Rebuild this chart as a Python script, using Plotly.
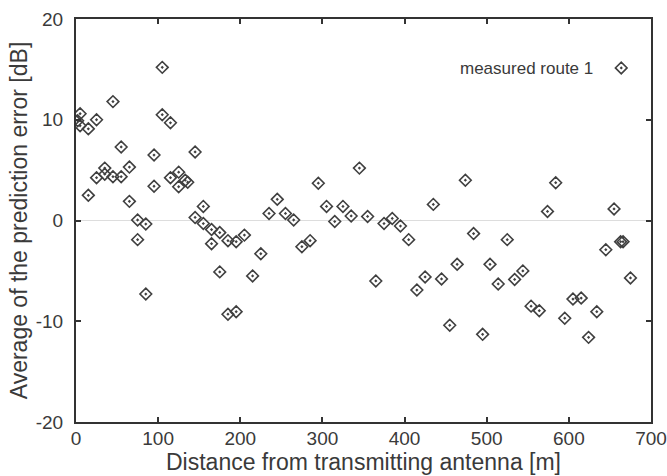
import plotly.graph_objects as go

distance_m = [5, 5, 2, 15, 15, 25, 25, 35, 35, 45, 45, 55, 55, 65, 65, 75, 75, 85, 85,
              95, 95, 105, 105, 115, 115, 125, 125, 133, 136, 145, 145, 155, 155, 165, 165,
              175, 175, 185, 185, 195, 195, 205, 215, 225, 235, 245, 255, 265, 275, 285,
              295, 305, 315, 325, 335, 345, 355, 365, 375, 385, 395, 405, 415, 425, 435,
              445, 455, 464, 474, 484, 495, 504, 514, 525, 534, 544, 554, 564, 574, 584,
              595, 605, 615, 624, 634, 645, 655, 663, 666, 675]
error_db = [10.6, 9.4, 9.9, 9.1, 2.5, 10.0, 4.25, 5.2, 4.6, 11.8, 4.35, 7.3, 4.35, 5.3, 1.9,
            0.05, -1.9, -0.35, -7.3, 6.5, 3.4, 15.2, 10.5, 9.7, 4.25, 4.8, 3.35, 4.0, 3.8,
            6.8, 0.3, 1.4, -0.3, -0.9, -2.3, -1.2, -5.1, -2.0, -9.3, -2.1, -9.05, -1.45,
            -5.5, -3.3, 0.7, 2.1, 0.7, 0.05, -2.6, -2.0, 3.7, 1.4, -0.1, 1.4, 0.45, 5.2,
            0.4, -6.0, -0.3, 0.2, -0.55, -1.9, -6.9, -5.6, 1.6, -5.8, -10.4, -4.35, 4.0,
            -1.3, -11.3, -4.35, -6.3, -1.9, -5.85, -5.0, -8.5, -8.95, 0.9, 3.75, -9.7,
            -7.8, -7.7, -11.6, -9.05, -2.9, 1.15, -2.1, -2.1, -5.7]

x_ticks = [0, 100, 200, 300, 400, 500, 600, 700]
y_ticks = [-20, -10, 0, 10, 20]
y_tick_labels = ["-20", "-10", "0", "10", "20"]
series_name = "measured route 1"

FONT = "Liberation Sans, Arial, Helvetica, sans-serif"
TXT = "#3a3a3a"
INK = "#404040"

fig = go.Figure()
fig.add_trace(go.Scatter(
    x=distance_m, y=error_db, mode="markers", name=" ",
    marker=dict(symbol="diamond-open-dot", size=9, color=INK, line=dict(width=1.6, color=INK)),
    showlegend=True, hoverinfo="skip",
))

axis_common = dict(
    showline=True, linecolor="#333333", linewidth=2, mirror="ticks",
    ticks="inside", ticklen=5, tickwidth=2, tickcolor="#333333",
    showgrid=False, automargin=False,
    tickfont=dict(family=FONT, size=19, color=TXT),
)

fig.update_layout(
    width=667, height=476,
    margin=dict(l=76, r=16, t=19, b=54),
    paper_bgcolor="white", plot_bgcolor="white",
    font=dict(family=FONT, color=TXT),
    xaxis=dict(range=[0, 700], tickvals=x_ticks, zeroline=False,
               ticklabelstandoff=-2,
               title=dict(text="Distance from transmitting antenna [m]",
                          font=dict(family=FONT, size=23, color=TXT), standoff=0),
               **axis_common),
    yaxis=dict(range=[-20, 20], tickvals=y_ticks, ticktext=y_tick_labels,
               zeroline=True, zerolinecolor="#dddddd",
               zerolinewidth=1, ticklabelstandoff=7,
               title=dict(text="Average of the prediction error [dB]",
                          font=dict(family=FONT, size=23, color=TXT), standoff=2),
               **axis_common),
    legend=dict(
        x=1.0, xanchor="right", y=0.878, yanchor="middle",
        bgcolor="rgba(0,0,0,0)", borderwidth=0,
        title=dict(text=series_name, side="left", font=dict(family=FONT, size=17, color=TXT)),
        font=dict(family=FONT, size=15, color=TXT),
        itemwidth=30,
    ),
)

fig.write_html("out.html", config={"displayModeBar": False},
               post_script="document.body.style.margin='0';")
